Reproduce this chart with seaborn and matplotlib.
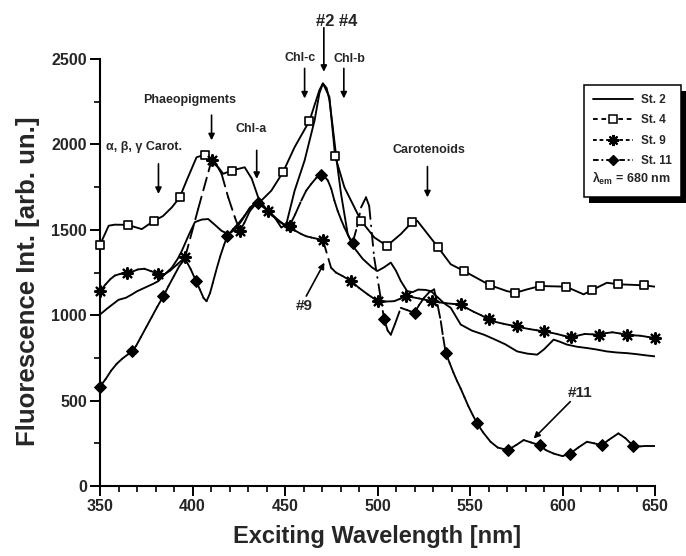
import matplotlib
matplotlib.use("Agg")
import matplotlib.pyplot as plt
from matplotlib.collections import LineCollection
from matplotlib.lines import Line2D
from matplotlib.patches import Rectangle
from matplotlib.ticker import MultipleLocator
from matplotlib.transforms import IdentityTransform
import numpy as np
import pandas as pd
import seaborn as sns

# ---------------------------------------------------------------- spectra
# St. 2 (no symbols)
st2_wl = [350, 354, 357, 360, 364, 367, 370, 373, 376, 379, 381.6, 385, 388.8, 392,
          394.2, 398, 401.3, 405, 408.5, 412, 415.7, 419.3, 423, 427, 431, 434.5, 438,
          441, 444.4, 448, 450.7, 455.2, 460.6, 466, 468.6, 470.5, 472.5, 474, 475.8,
          478, 480.3, 483.9, 487, 492, 497, 500, 503.5, 507.2, 510, 512.6, 516, 519,
          522, 526, 529, 533, 536, 539.6, 545, 551, 557.5, 563, 569, 575.5, 581, 586.3,
          590, 595.2, 598.5, 602.4, 608, 613.1, 618, 623.9, 629, 634.7, 640, 645, 650]
st2_val = [1004, 1040, 1065, 1090, 1102, 1120, 1140, 1155, 1170, 1185, 1200, 1240, 1278,
           1330, 1376, 1470, 1545, 1560, 1563, 1530, 1494, 1475, 1500, 1560, 1630, 1660,
           1650, 1600, 1573, 1513, 1533, 1729, 1906, 2141, 2300, 2357, 2330, 2260, 2102,
           1900, 1710, 1475, 1400, 1330, 1280, 1259, 1280, 1308, 1260, 1200, 1141, 1135,
           1150, 1148, 1140, 1100, 1070, 1043, 945, 910, 886, 860, 830, 788, 775, 769,
           800, 857, 845, 828, 815, 808, 800, 788, 782, 778, 772, 765, 759]

# St. 4 (open squares)
st4_wl = [350, 354.7, 358, 364.9, 372.6, 379.2, 384, 388.8, 393.1, 396.8, 402.2, 406.7,
          410, 413.9, 416.6, 421.1, 428.2, 432, 435.5, 437.2, 442.6, 448.9, 455.2, 463.2,
          468.6, 470.5, 474, 477.1, 482.1, 491.1, 498.3, 505.1, 512.6, 518.9, 521.5,
          532.7, 539.6, 546.7, 560.7, 570, 574.5, 580.8, 588, 601.9, 611.4, 615.9, 624,
          630.2, 644, 650]
st4_val = [1412, 1524, 1530, 1529, 1504, 1553, 1580, 1631, 1690, 1788, 1925, 1939, 1900,
           1866, 1828, 1847, 1866, 1800, 1690, 1671, 1729, 1837, 1984, 2137, 2318, 2357,
           2278, 1931, 1749, 1553, 1455, 1406, 1475, 1547, 1553, 1398, 1298, 1259, 1176,
           1141, 1131, 1151, 1171, 1167, 1122, 1147, 1190, 1181, 1175, 1167]
st4_sym_wl = [350, 364.9, 379.2, 393.1, 406.7, 421.1, 448.9, 463.2, 477.1, 491.1, 505.1,
              518.9, 532.7, 546.7, 560.7, 574.5, 588, 601.9, 615.9, 630.2, 644]
st4_sym_val = [1412, 1529, 1553, 1690, 1939, 1847, 1837, 2137, 1931, 1553, 1406, 1547,
               1398, 1259, 1176, 1131, 1171, 1167, 1147, 1181, 1175]

# St. 9 (asterisks)
st9_wl = [350, 353, 355.5, 358, 361, 364.5, 367.5, 370.5, 374, 377.5, 381.6, 385, 388,
          391.5, 396, 403, 410.3, 413, 415.7, 419.3, 422.9, 425.6, 428, 431, 434.5, 437.5,
          440.8, 443.5, 446.5, 449.5, 452.5, 455.5, 458.8, 461.5, 464.2, 467.5, 470.5,
          474.9, 477.5, 481, 485.7, 490, 494.7, 500.1, 504.5, 509, 512, 515.3, 519, 522.5,
          526, 529.7, 533.5, 537, 541, 545, 548.5, 552, 556, 560.2, 564, 568, 571.5, 575.5,
          579, 582.5, 586, 589.8, 593.5, 597, 600.5, 604.6, 608, 612, 616, 619.8, 623.5,
          627, 631, 634.7, 638.5, 642, 646, 650]
st9_val = [1141, 1180, 1210, 1232, 1242, 1249, 1255, 1268, 1272, 1258, 1243, 1240, 1262,
           1295, 1339, 1620, 1906, 1880, 1828, 1690, 1573, 1494, 1540, 1610, 1655, 1640,
           1612, 1580, 1550, 1530, 1524, 1495, 1475, 1462, 1455, 1447, 1440, 1278, 1250,
           1230, 1200, 1160, 1122, 1082, 1080, 1082, 1095, 1112, 1105, 1098, 1090, 1082,
           1075, 1070, 1066, 1063, 1040, 1020, 1000, 975, 960, 950, 942, 935, 925, 918,
           912, 906, 898, 890, 880, 871, 880, 890, 888, 886, 895, 900, 893, 886, 882, 880,
           873, 867]
st9_sym_wl = [350, 364.5, 381.6, 396, 410.3, 425.6, 440.8, 452.5, 470.5, 485.7, 500.1,
              515.3, 529.7, 545, 560.2, 575.5, 589.8, 604.6, 619.8, 634.7, 650]
st9_sym_val = [1141, 1249, 1243, 1339, 1906, 1494, 1612, 1524, 1440, 1200, 1082, 1112,
               1082, 1063, 975, 935, 906, 871, 886, 886, 867]

# St. 11 (filled diamonds)
st11_wl = [350, 353, 356, 359, 362, 365, 367.2, 369.5, 372, 375, 378, 381, 384.3, 387,
           390, 393, 396, 399, 401.9, 404, 406, 407.6, 409.5, 411, 413, 415, 417, 418.9,
           422, 425, 428, 431, 434.5, 437.5, 440, 443, 446, 449, 452.5, 455.5, 458.8,
           461.5, 464.2, 467, 469.5, 471.5, 473.2, 475, 476.7, 478.5, 480.3, 482.1, 484.5,
           486.6, 489, 491.1, 493.8, 495.5, 498.2, 503.6, 505.5, 507.2, 509.5, 512.6, 516,
           520, 522.5, 525.2, 528, 530.6, 532.5, 534.2, 535.5, 536.9, 539, 541, 543, 544.9,
           547, 549, 551.5, 553.9, 557, 561.1, 565, 570.4, 575, 579, 583, 587.6, 591,
           595.2, 600, 604.2, 608.5, 613.2, 617, 621.2, 625, 630.2, 634, 638.3, 642, 645.5,
           650]
st11_val = [582, 625, 675, 715, 745, 770, 788, 820, 870, 930, 990, 1050, 1112, 1170, 1230,
            1290, 1330, 1270, 1200, 1150, 1100, 1082, 1130, 1190, 1270, 1345, 1410, 1465,
            1505, 1540, 1580, 1625, 1661, 1640, 1620, 1590, 1560, 1535, 1524, 1590, 1671,
            1730, 1769, 1805, 1818, 1810, 1788, 1740, 1671, 1610, 1560, 1514, 1460, 1425,
            1520, 1631, 1690, 1640, 1337, 975, 910, 886, 950, 1043, 1030, 1014, 1060, 1102,
            1135, 1151, 1060, 965, 870, 778, 720, 665, 615, 572, 520, 470, 415, 366, 315,
            259, 225, 210, 240, 269, 255, 239, 210, 190, 175, 190, 225, 259, 250, 239, 270,
            308, 280, 234, 232, 235, 235]
st11_sym_wl = [350, 367.2, 384.3, 401.9, 418.9, 435.5, 452.5, 469.5, 486.6, 503.6, 520,
               536.9, 553.9, 570.4, 587.6, 604.2, 621.2, 638.3]
st11_sym_val = [582, 788, 1112, 1200, 1465, 1655, 1524, 1818, 1425, 975, 1014, 778, 366,
                210, 239, 190, 239, 234]

station_labels = ["St. 2", "St. 4", "St. 9", "St. 11"]
x_ticks = [350, 400, 450, 500, 550, 600, 650]
y_ticks = [0, 500, 1000, 1500, 2000, 2500]

# ---------------------------------------------------------------- style
sns.set_style("ticks")
plt.rcParams["font.family"] = ["Liberation Sans", "DejaVu Sans"]
plt.rcParams["font.weight"] = "bold"
plt.rcParams["mathtext.fontset"] = "custom"
plt.rcParams["mathtext.rm"] = "Liberation Sans:bold"
plt.rcParams["mathtext.it"] = "Liberation Sans:bold"
plt.rcParams["mathtext.bf"] = "Liberation Sans:bold"

LW = 1.35
DPI = 100
fig = plt.figure(figsize=(6.86, 5.56), dpi=DPI)
ax = fig.add_axes([100 / 686, 70 / 556, 555 / 686, 427 / 556])


def draw_curve(wl, val, dashes=None):
    """Draw one spectrum; dashed styles restart their pattern on every
    segment so that closely spaced points read as a continuous line."""
    df = pd.DataFrame({"wl": wl, "val": val})
    sns.lineplot(data=df, x="wl", y="val", ax=ax, color="black", linewidth=LW,
                 sort=False, estimator=None, legend=False)
    if dashes is None:
        return
    line = ax.lines[-1]
    xy = line.get_xydata()
    line.remove()
    segs = np.stack([xy[:-1], xy[1:]], axis=1)
    ax.add_collection(LineCollection(segs, colors="black", linewidths=LW,
                                     linestyles=[(0, dashes)], capstyle="round"))


draw_curve(st2_wl, st2_val)
draw_curve(st4_wl, st4_val)
draw_curve(st9_wl, st9_val, dashes=(7, 3.5))
draw_curve(st11_wl, st11_val, dashes=(7, 3.5, 0.4, 3.5))

star = (8, 2, 0)
sns.scatterplot(x=st4_sym_wl, y=st4_sym_val, ax=ax, marker="s", s=38, color="white",
                edgecolor="black", linewidth=1.2, zorder=4, clip_on=False, legend=False)
sns.scatterplot(x=st9_sym_wl, y=st9_sym_val, ax=ax, marker=star, s=60, color="black",
                edgecolor="black", linewidth=1.6, zorder=4, clip_on=False, legend=False)
sns.scatterplot(x=st11_sym_wl, y=st11_sym_val, ax=ax, marker="D", s=36, color="black",
                edgecolor="black", linewidth=0.8, zorder=4, clip_on=False, legend=False)

# ---------------------------------------------------------------- axes
ax.set_xlim(350, 650)
ax.set_ylim(0, 2500)
ax.set_xticks(x_ticks)
ax.set_yticks(y_ticks)
ax.xaxis.set_minor_locator(MultipleLocator(10))
ax.yaxis.set_minor_locator(MultipleLocator(250))
sns.despine(ax=ax)
for side in ("left", "bottom"):
    ax.spines[side].set_linewidth(1.5)
    ax.spines[side].set_color("black")
ax.tick_params(which="major", direction="out", length=7, width=1.4, color="black",
               labelsize=11.5, pad=2.5)
ax.tick_params(which="minor", direction="out", length=4, width=1.2, color="black")
for lab in ax.get_xticklabels() + ax.get_yticklabels():
    lab.set_fontweight("bold")
ax.set_xlabel("Exciting Wavelength [nm]", fontsize=17, fontweight="bold")
ax.set_ylabel("Fluorescence Int. [arb. un.]", fontsize=18.5, fontweight="bold")
ax.xaxis.set_label_coords(0.5, -0.092)
ax.yaxis.set_label_coords(-0.108, 0.48)

# ---------------------------------------------------------------- annotations
arrow = dict(arrowstyle="-|>", color="black", lw=1.2, mutation_scale=9,
             shrinkA=0, shrinkB=0)


def mark(text, xy_text, tail, head, size=9):
    ax.text(*xy_text, text, ha="center", va="center", fontsize=size,
            fontweight="bold", clip_on=False)
    ax.annotate("", xy=head, xytext=tail, arrowprops=arrow, annotation_clip=False)


mark("#2 #4", (478.2, 2719), (471, 2683), (471, 2425), size=12)
mark("Chl-c", (458.3, 2504), (460.6, 2445), (460.6, 2269))
mark("Chl-b", (484.8, 2498), (481.8, 2445), (481.8, 2269))
mark("Phaeopigments", (398.6, 2259), (410.3, 2171), (410.3, 2024))
mark("Chl-a", (431.9, 2092), (434.7, 1965), (434.7, 1798))
mark("\u03b1, \u03b2, \u03b3 Carot.", (374, 1984), (381.6, 1886), (381.6, 1710))
mark("Carotenoids", (527.9, 1965), (527, 1870), (527, 1690))
mark("#9", (460.6, 1053), (461.5, 1112), (471.3, 1308), size=11)
mark("#11", (609.7, 543), (604.2, 494), (584.4, 278), size=11)

# ---------------------------------------------------------------- legend
handles = [
    Line2D([], [], color="black", lw=LW),
    Line2D([], [], color="black", lw=LW, ls=(0, (2.5, 2)), marker="s", ms=6,
           mfc="white", mec="black", mew=1.1),
    Line2D([], [], color="black", lw=LW, ls=(0, (2, 1.5)), marker=star, ms=8, mew=1.5),
    Line2D([], [], color="black", lw=LW, ls=(0, (3, 1.5, 1, 1.5)), marker="D", ms=5.5),
    Line2D([], [], alpha=0),
]
leg = ax.legend(handles, station_labels + [" "], loc="upper left",
                bbox_to_anchor=(584 / 686, 1 - 85 / 556), bbox_transform=fig.transFigure,
                frameon=True, fancybox=False, framealpha=1, edgecolor="black",
                handlelength=3.4, handletextpad=0.7, borderpad=0.75, labelspacing=0.72,
                borderaxespad=0, prop=dict(size=8.5, weight="bold"))
leg.get_frame().set_linewidth(1.1)
fig.text(592 / 686, 1 - 178 / 556, r"$\lambda_{em}$ = 680 nm", ha="left", va="center",
         fontsize=9, fontweight="bold")

fig.canvas.draw()
bb = leg.get_window_extent()
shadow = Rectangle((bb.x0 + 5, bb.y0 - 6), bb.width, bb.height, facecolor="black",
                   edgecolor="none", transform=IdentityTransform(), zorder=4.5,
                   clip_on=False)
ax.add_patch(shadow)

fig.savefig("out.png", dpi=DPI)
